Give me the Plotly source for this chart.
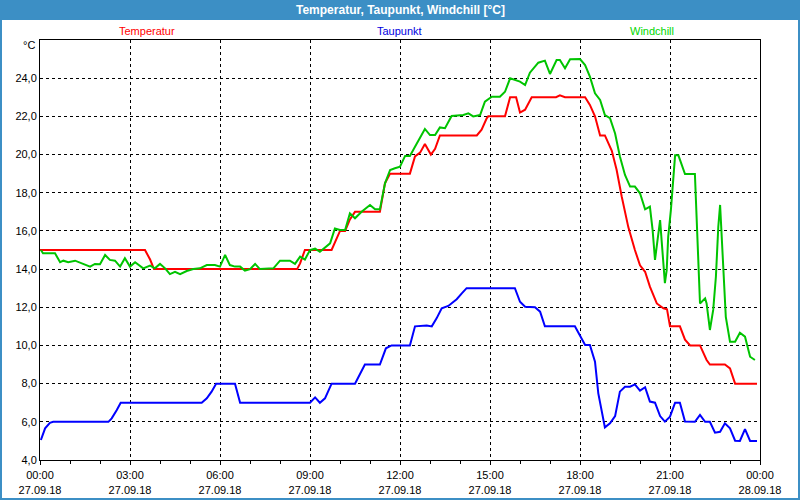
import plotly.graph_objects as go

# ---------------- data (hours since 27.09.18 00:00) ----------------
temp_t = [0, 3.5, 3.67, 3.8, 8.57, 8.67, 8.83, 9.72, 10.0, 10.17,
          10.33, 10.5, 11.33, 11.5, 11.67, 12.33, 12.5, 12.67, 12.83, 13.03,
          13.17, 13.33, 14.56, 14.72, 14.89, 14.94, 15.5, 15.6, 15.67, 15.87,
          16.0, 16.17, 16.39, 17.2, 17.33, 17.5, 18.17, 18.33, 18.5, 18.67,
          18.83, 19.06, 19.22, 19.39, 19.61, 19.83, 20.0, 20.17, 20.33, 20.56,
          20.78, 20.9, 21.0, 21.33, 21.5, 21.67, 22.0, 22.22, 22.33, 22.83,
          23.0, 23.17, 23.9]
temp_v = [15, 15, 14.5, 14, 14, 14.3, 15, 15, 16, 16,
          16.6, 17, 17, 18.5, 19, 19, 19.9, 20.1, 20.55, 20,
          20.3, 21, 21, 21.3, 21.9, 22, 22, 22.6, 23, 23,
          22.2, 22.35, 23, 23, 23.1, 23, 23, 22.6, 22.0, 21.0,
          21.0, 20.2, 19.2, 17.8, 16.2, 15.0, 14.2, 13.86, 13.08, 12.2,
          11.95, 11.9, 11.0, 11.0, 10.3, 10.0, 10.0, 9.24, 9.0, 9.0,
          8.8, 8.0, 8.0]

dew_t = [0.03, 0.17, 0.33, 0.44, 2.28, 2.39, 2.56, 2.69, 5.39, 5.56,
         5.72, 5.87, 6.5, 6.67, 9.0, 9.17, 9.33, 9.5, 9.72, 10.5,
         10.83, 11.33, 11.53, 11.72, 12.33, 12.5, 12.89, 13.06, 13.22, 13.39,
         13.61, 13.89, 14.06, 14.22, 15.83, 16.0, 16.17, 16.5, 16.67, 16.83,
         17.83, 18.0, 18.17, 18.33, 18.5, 18.61, 18.72, 18.83, 19.0, 19.17,
         19.33, 19.5, 19.67, 19.83, 20.0, 20.17, 20.33, 20.5, 20.67, 20.83,
         21.0, 21.17, 21.33, 21.5, 21.83, 22.0, 22.17, 22.33, 22.5, 22.67,
         22.83, 23.0, 23.17, 23.33, 23.5, 23.67, 23.9]
dew_v = [5.05, 5.66, 5.95, 6.0, 6.0, 6.18, 6.62, 7.0, 7.0, 7.23,
         7.58, 8.0, 8.0, 7.0, 7.0, 7.28, 7.0, 7.23, 8.0, 8.0,
         9.0, 9.0, 9.85, 10.0, 10.0, 11.0, 11.05, 11.0, 11.42, 11.95,
         12.07, 12.42, 12.73, 13.0, 13.0, 12.29, 12.03, 12.0, 11.77, 11.0,
         11.0, 10.5, 10.02, 10.02, 9.15, 7.49, 6.62, 5.71, 5.92, 6.3,
         7.58, 7.84, 7.84, 7.96, 7.63, 7.81, 7.06, 7.0, 6.3, 6.01,
         6.27, 7.0, 7.0, 6.01, 6.0, 6.36, 6.0, 6.0, 5.43, 5.48,
         5.92, 5.66, 5.01, 5.0, 5.62, 5.0, 5.0]

wc_t = [0.03, 0.1, 0.5, 0.67, 0.78, 0.94, 1.17, 1.39, 1.67, 1.83,
        2.0, 2.17, 2.33, 2.5, 2.67, 2.83, 3.0, 3.17, 3.44, 3.67,
        3.83, 4.0, 4.17, 4.33, 4.5, 4.67, 4.89, 5.11, 5.33, 5.56,
        5.83, 6.0, 6.17, 6.33, 6.5, 6.67, 6.83, 7.0, 7.17, 7.33,
        7.56, 7.78, 8.0, 8.33, 8.5, 8.67, 8.83, 9.0, 9.17, 9.33,
        9.67, 9.83, 10.0, 10.17, 10.33, 10.5, 10.72, 11.0, 11.17, 11.33,
        11.5, 11.67, 11.83, 12.0, 12.17, 12.33, 12.5, 12.83, 13.0, 13.17,
        13.33, 13.5, 13.72, 14.11, 14.28, 14.44, 14.67, 14.83, 15.06, 15.33,
        15.5, 15.67, 16.0, 16.17, 16.33, 16.61, 16.83, 17.0, 17.22, 17.33,
        17.5, 17.67, 18.0, 18.17, 18.33, 18.5, 18.67, 18.83, 19.0, 19.17,
        19.33, 19.5, 19.67, 19.83, 20.0, 20.17, 20.33, 20.42, 20.5, 20.58,
        20.67, 20.72, 20.78, 20.83, 20.89, 20.94, 21.03, 21.11, 21.17, 21.28,
        21.5, 21.83, 21.89, 21.94, 22.0, 22.17, 22.22, 22.33, 22.44, 22.53,
        22.61, 22.67, 22.7, 22.76, 22.8, 22.86, 23.0, 23.17, 23.33, 23.5,
        23.67, 23.83]
wc_v = [15.0, 14.83, 14.83, 14.36, 14.44, 14.36, 14.44, 14.3, 14.13, 14.27,
        14.25, 14.74, 14.48, 14.44, 14.13, 14.57, 14.13, 14.36, 14.04, 14.18,
        14.04, 14.27, 14.04, 13.74, 13.86, 13.73, 13.9, 14.0, 14.04, 14.21,
        14.21, 14.13, 14.74, 14.21, 14.13, 14.13, 13.92, 14.0, 14.27, 14.0,
        14.04, 14.04, 14.44, 14.44, 14.27, 14.65, 14.5, 15.0, 15.07, 14.91,
        15.35, 16.13, 16.05, 16.05, 16.92, 16.66, 17.0, 17.36, 17.13, 17.13,
        18.49, 19.19, 19.28, 19.36, 19.93, 19.93, 20.41, 21.34, 21.02, 21.02,
        21.42, 21.38, 22.02, 22.07, 22.16, 22.0, 22.07, 22.77, 23.03, 23.03,
        23.29, 23.99, 23.82, 23.64, 24.29, 24.81, 24.92, 24.22, 24.95, 24.95,
        24.52, 24.99, 25.0, 24.69, 24.08, 23.21, 22.86, 22.07, 21.9, 21.1,
        19.9, 18.93, 18.32, 18.32, 17.97, 17.13, 17.27, 16.05, 14.48, 15.35,
        16.57, 15.52, 14.3, 13.26, 13.95, 15.7, 17.1, 18.84, 19.96, 19.96,
        18.98, 18.98, 16.4, 15.0, 12.2, 12.47, 12.2, 10.81, 11.86, 13.6,
        16.22, 17.36, 16.4, 15.0, 13.26, 11.5, 10.2, 10.2, 10.67, 10.46,
        9.41, 9.24]

x_tickvals = [0, 3, 6, 9, 12, 15, 18, 21, 24]
x_ticktext = ["00:00<br>27.09.18", "03:00<br>27.09.18", "06:00<br>27.09.18",
              "09:00<br>27.09.18", "12:00<br>27.09.18", "15:00<br>27.09.18",
              "18:00<br>27.09.18", "21:00<br>27.09.18", "00:00<br>28.09.18"]
y_tickvals = [4, 6, 8, 10, 12, 14, 16, 18, 20, 22, 24]

series_names = ["Temperatur", "Taupunkt", "Windchill"]
series_colors = ["#ff0000", "#0000ff", "#00c400"]
label_colors = ["#ff0000", "#0000e0", "#00d800"]

# ---------------- figure ----------------
FONT = "Liberation Sans"
fig = go.Figure()
for name, xs, ys, col in zip(series_names, [temp_t, dew_t, wc_t],
                             [temp_v, dew_v, wc_v], series_colors):
    fig.add_trace(go.Scatter(x=xs, y=ys, mode="lines", name=name,
                             line=dict(color=col, width=2), hoverinfo="skip"))

W, H = 800, 500
L, R, T, B = 40, 40, 40, 40
pw, ph = W - L - R, H - T - B

def px_x(px):
    return (px - L) / pw

def px_y(py):
    return (H - B - py) / ph

shapes = [
    # title bar
    dict(type="rect", xref="paper", yref="paper", x0=px_x(0), x1=px_x(800),
         y0=px_y(20), y1=px_y(0), fillcolor="#3c8fc5", line=dict(width=0),
         layer="below"),
    # outer border
    dict(type="rect", xref="paper", yref="paper", x0=px_x(1), x1=px_x(799),
         y0=px_y(499), y1=px_y(1), line=dict(color="#3c8fc5", width=2)),
]

annotations = [
    dict(text="Temperatur, Taupunkt, Windchill [°C]", x=px_x(400), y=px_y(10),
         xref="paper", yref="paper", showarrow=False, xanchor="center",
         yanchor="middle", font=dict(family=FONT, size=12, color="white", weight="bold")),
    dict(text="°C", x=px_x(37), y=px_y(45), xref="paper", yref="paper",
         showarrow=False, xanchor="right", yanchor="middle",
         font=dict(family=FONT, size=11, color="black")),
]
for name, cx, col in zip(series_names, [147, 399, 652], label_colors):
    annotations.append(dict(text=name, x=px_x(cx), y=px_y(31), xref="paper",
                            yref="paper", showarrow=False, xanchor="center",
                            yanchor="middle",
                            font=dict(family=FONT, size=11, color=col)))

fig.update_layout(
    width=W, height=H,
    margin=dict(l=L, r=R, t=T, b=B, pad=0, autoexpand=False),
    paper_bgcolor="white", plot_bgcolor="white",
    showlegend=False,
    hovermode=False,
    separators=",.",
    font=dict(family=FONT, size=11, color="black"),
    shapes=shapes,
    annotations=annotations,
    xaxis=dict(range=[0, 24], tickvals=x_tickvals, ticktext=x_ticktext,
               automargin=False,
               showgrid=True, gridcolor="black", gridwidth=1, griddash="3px,3px",
               showline=True, linecolor="black", linewidth=1, mirror=True,
               ticks="outside", ticklen=4, tickcolor="black",
               ticklabelstandoff=1,
               minor=dict(dtick=1, tick0=0, ticks="outside", ticklen=3,
                          tickcolor="black", showgrid=False),
               zeroline=False, tickfont=dict(size=11, family=FONT)),
    yaxis=dict(range=[4, 26], tickvals=y_tickvals, tickformat=".1f",
               automargin=False,
               showgrid=True, gridcolor="black", gridwidth=1, griddash="3px,3px",
               showline=True, linecolor="black", linewidth=1, mirror=True,
               ticks="", zeroline=False, tickfont=dict(size=11, family=FONT)),
)

fig.write_html("out.html",
               config={"displayModeBar": False, "staticPlot": True},
               post_script="document.body.style.margin='0';"
                           "document.body.style.overflow='hidden';")
